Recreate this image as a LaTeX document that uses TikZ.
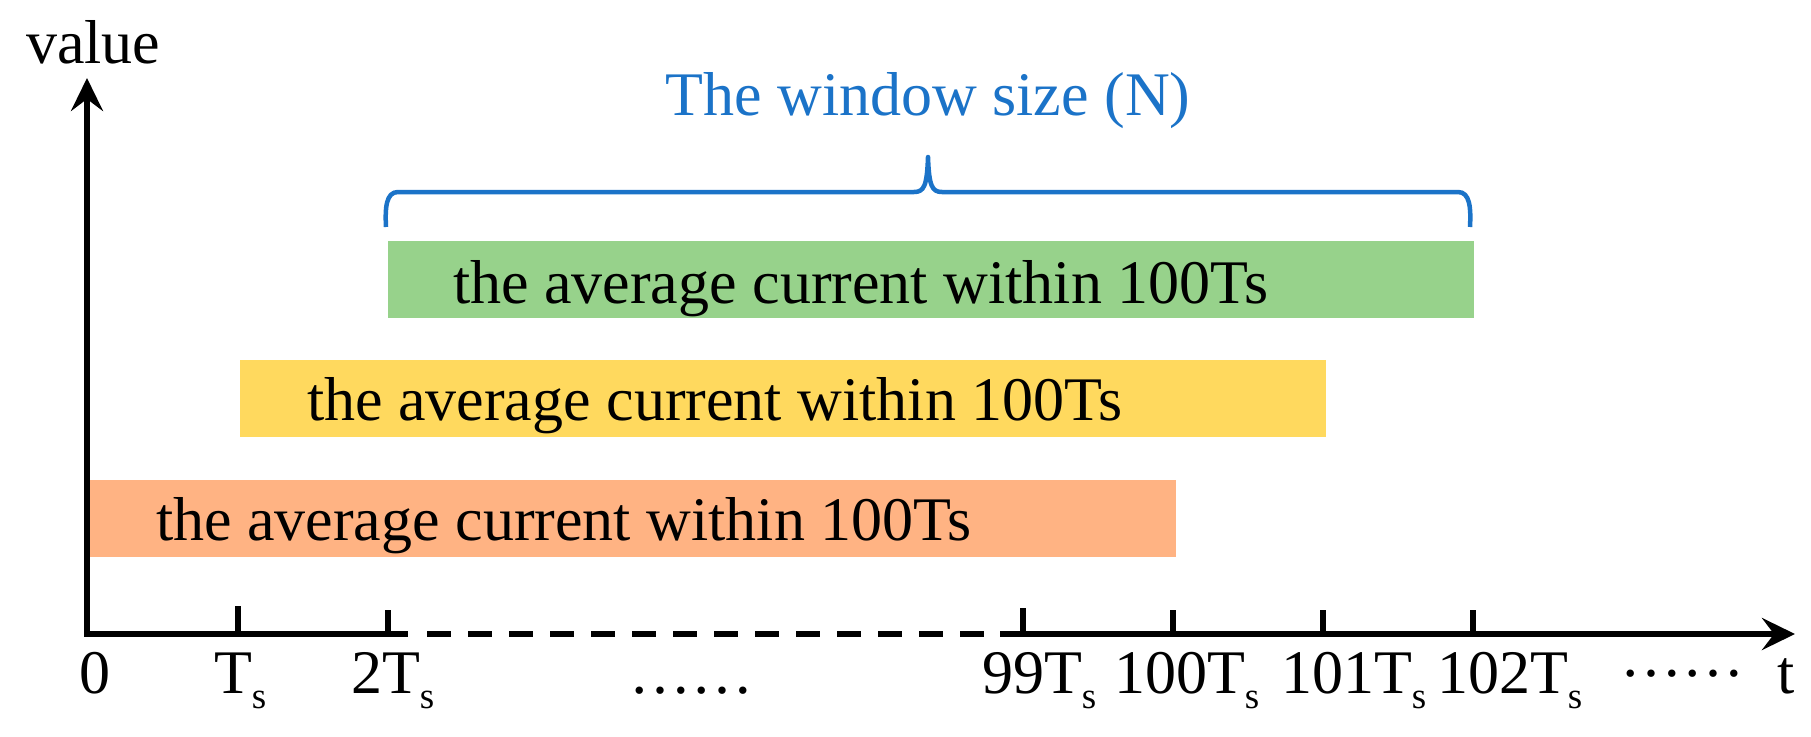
\documentclass[tikz,border=0pt]{standalone}
\usepackage{fontspec}
\setmainfont{Liberation Serif}
\usetikzlibrary{arrows.meta}
\definecolor{barG}{RGB}{151,210,139}
\definecolor{barY}{RGB}{255,217,94}
\definecolor{barO}{RGB}{255,179,131}
\definecolor{braceblue}{RGB}{27,115,200}
\newcommand{\mysub}[1]{\raisebox{-15pt}{\fontsize{37}{37}\selectfont #1}}
\begin{document}
\begin{tikzpicture}[x=1pt,y=-1pt,
  every node/.style={inner sep=0pt, outer sep=0pt, font=\fontsize{62}{70}\selectfont},
  axisline/.style={line width=6.7pt, line join=miter},
  tickline/.style={line width=5.5pt},
  barbox/.style={anchor=north west, minimum width=1086pt, minimum height=77pt, draw=none},
  lbl/.style={anchor=base west},
  tipA/.tip={Stealth[length=33pt,width=32pt,inset=12pt]},
  bracestyle/.style={draw=braceblue, line width=4.5pt, line join=round}
]
\useasboundingbox (0,0) rectangle (1811,736);

% bars
\node[barbox, fill=barG] (gbar) at (388,241) {};
\node[barbox, fill=barY] (ybar) at (240,360) {};
\node[barbox, fill=barO] (obar) at (90,480) {};
\node[lbl] (gtext) at (453,303) {the average current within 100Ts};
\node[lbl] (ytext) at (307,420) {the average current within 100Ts};
\node[lbl] (otext) at (156,540) {the average current within 100Ts};

% axes
\coordinate (O) at (87,634);
\coordinate (Ytip) at (87,78);
\coordinate (Xtip) at (1795,634);
\coordinate (S1) at (408,634);
\coordinate (D0) at (427,634);
\coordinate (D1) at (984,634);
\coordinate (S2) at (1000,634);
\draw[axisline, tipA-] (Ytip) -- (O) -- (S1);
\draw[axisline, dash pattern=on 24pt off 17pt] (D0) -- (D1);
\draw[axisline, -tipA] (S2) -- (Xtip);

% ticks
\foreach \x/\h in {238/606, 388/610, 1023/608, 1173/610, 1323/610, 1473/610}
  \draw[tickline] (\x,634) -- (\x,\h);

% axis labels
\node[lbl] (vlab) at (26,63) {value};
\node[lbl] (tlab) at (1777,693) {t};
\node[lbl] (l0) at (79,693) {0};
\node[lbl] (l1) at (214,693) {T\mysub{s}};
\node[lbl] (l2) at (351,693) {2T\mysub{s}};
\node[lbl] (l99) at (982,693) {99T\mysub{s}};
\node[lbl] (l100) at (1114,693) {100T\mysub{s}};
\node[lbl] (l101) at (1281,693) {101T\mysub{s}};
\node[lbl] (l102) at (1437,693) {102T\mysub{s}};
\node[lbl] (dotsA) at (629,693) {\textellipsis\textellipsis};
\node[lbl] (dotsB) at (1620,676) {\textellipsis\textellipsis};

% brace and title
\coordinate (BL) at (386,227);
\coordinate (BR) at (1470,227);
\coordinate (BT) at (928,157);
\draw[bracestyle] (BL) .. controls (385,208) and (386,192) .. (398,192)
  -- (914,192) .. controls (924,192) and (927,186) .. (BT)
  .. controls (929,186) and (932,192) .. (942,192)
  -- (1458,192) .. controls (1470,192) and (1471,208) .. (BR);
\node[anchor=base, text=braceblue] (title) at (928,115) {The window size (N)};
\end{tikzpicture}
\end{document}
